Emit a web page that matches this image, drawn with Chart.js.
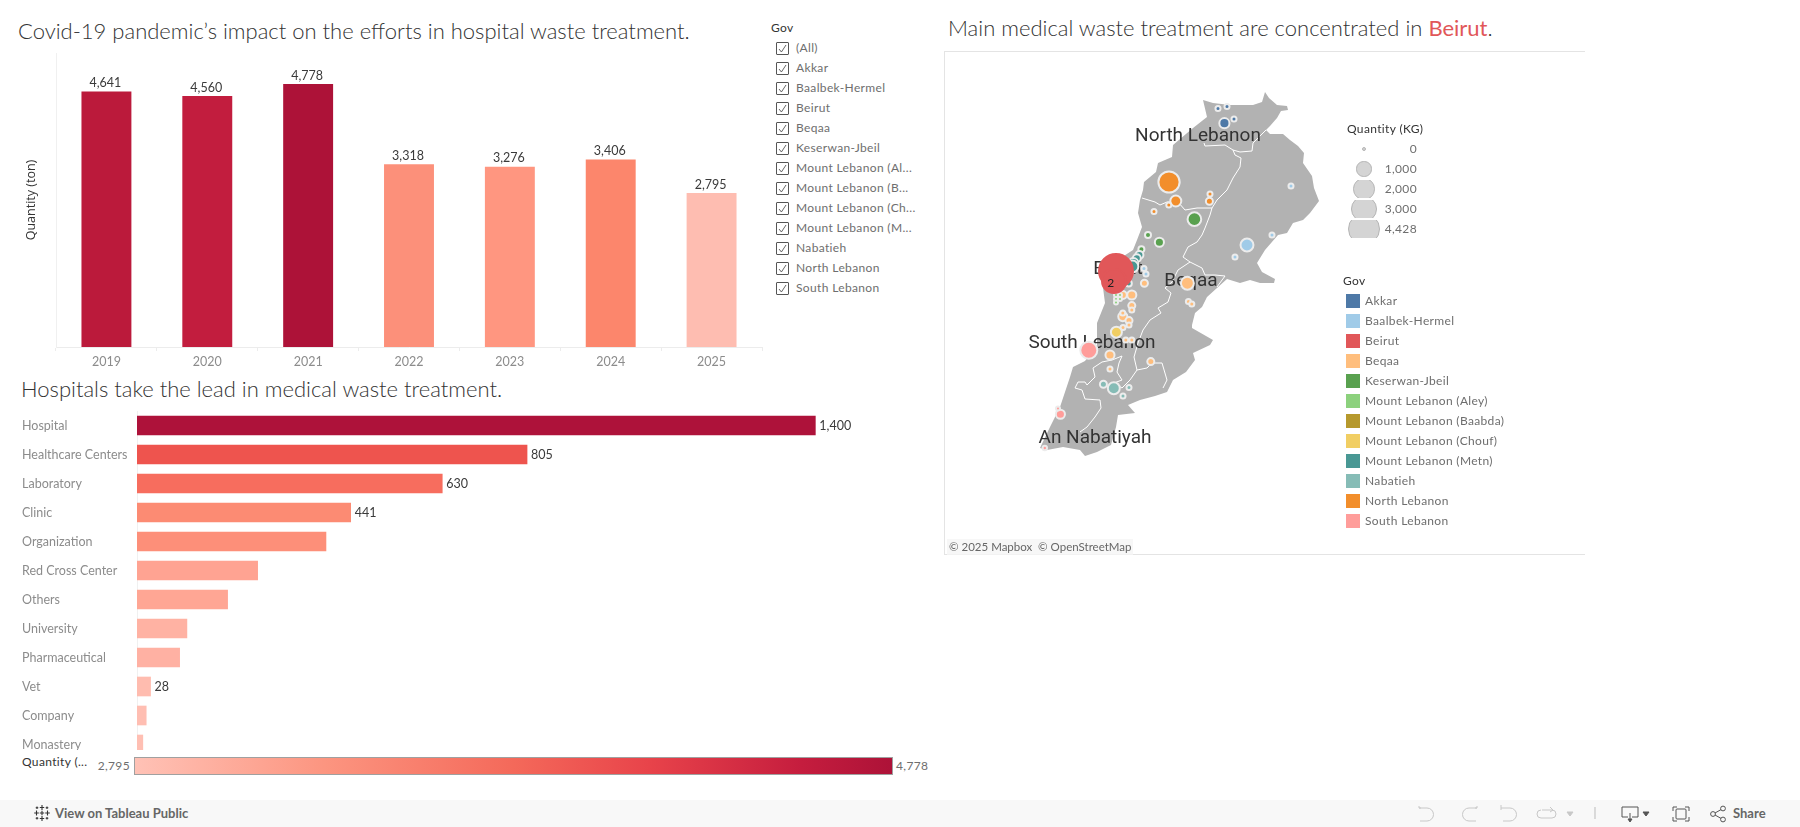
<!DOCTYPE html>
<html>
<head>
<meta charset="utf-8">
<title>Medical waste treatment in Lebanon</title>
<script src="https://cdn.jsdelivr.net/npm/chart.js@4/dist/chart.umd.min.js"></script>
<style>
  html, body { margin: 0; padding: 0; background: #fff; }
  body { position: relative; width: 1800px; height: 827px; overflow: hidden; font-family: Lato, "Open Sans", sans-serif; color: #6e6e6e; }
  .abs { position: absolute; white-space: nowrap; }
  canvas { display: block; }
  .title { font-family: Lato, sans-serif; font-weight: 300; font-size: 22px; line-height: 26px; color: #333; }
  .small { font-size: 12px; line-height: 16px; letter-spacing: 0.35px; }
  .head { color: #333; }
  .check { position: absolute; left: 776px; width: 11px; height: 11px; border: 1px solid #555; border-radius: 1px; }
  .check svg { position: absolute; left: 1px; top: 1px; }
  .swatch { position: absolute; left: 1346px; width: 14px; height: 14px; }
  .sizeRow { position: absolute; left: 1340px; width: 50px; height: 18px; overflow: hidden; }
  .sizeDot { position: absolute; box-sizing: border-box; background: #d4d4d4; border: 1.5px solid #b4b4b4; border-radius: 50%; }
</style>
</head>
<body>
<div class="abs title" style="left:18px;top:18px">Covid-19 pandemic’s impact on the efforts in hospital waste treatment.</div>
<div class="abs title" style="left:21px;top:376px">Hospitals take the lead in medical waste treatment.</div>
<div class="abs title" style="left:948px;top:15px">Main medical waste treatment are concentrated in <span style="color:#e15759;font-weight:400">Beirut</span>.</div>

<div class="abs" style="left:0;top:45px"><canvas id="yearChart" width="770" height="335"></canvas></div>
<div class="abs" style="left:0;top:411px;width:940px;height:339px;overflow:hidden"><canvas id="typeChart" width="940" height="348"></canvas></div>

<div class="abs" style="left:944px;top:51px;width:641px;height:504px;box-sizing:border-box;border:1px solid #e4e4e4;border-right:0"></div>
<div class="abs" style="left:944px;top:51px"><canvas id="mapChart" width="641" height="504"></canvas></div>
<div class="abs small" style="left:947px;top:539px;font-size:11.5px;letter-spacing:0;color:#666;background:rgba(245,245,245,.8);padding:0 2px">© 2025 Mapbox&nbsp; © OpenStreetMap</div>

<div class="abs small head" style="left:771px;top:20px">Gov</div>
<div id="filterList"></div>

<div class="abs small head" style="left:1347px;top:121px">Quantity (KG)</div>
<div id="sizeLegend"></div>
<div class="abs small head" style="left:1343px;top:273px">Gov</div>
<div id="colorLegend"></div>

<div class="abs small head" style="left:22px;top:754px">Quantity (...</div>
<div class="abs small" style="right:1670px;top:758px">2,795</div>
<div class="abs" style="left:134px;top:757px;width:759px;height:18px;box-sizing:border-box;border:1px solid #a0a0a0;background:linear-gradient(90deg,#ffc2b6 0%,#fc9580 25%,#f4695a 50%,#e8434a 68%,#c51d3e 88%,#ad1238 100%)"></div>
<div class="abs small" style="left:896px;top:758px">4,778</div>

<div class="abs" style="left:0;top:800px;width:1800px;height:27px;background:#f8f8f8"></div>
<svg class="abs" style="left:33px;top:804px" width="18" height="18" viewBox="0 0 18 18" stroke="#333" stroke-width="1.1" fill="none">
  <path d="M9 1v5M6.8 3.5h4.4M9 12v5M6.8 14.5h4.4M3.5 6.5v5M1.2 9h4.6M14.5 6.5v5M12.2 9h4.6M9 6.8v4.4M6.8 9h4.4M4 2.5v2.6M2.7 3.8h2.6M14 2.5v2.6M12.7 3.8h2.6M4 12.9v2.6M2.7 14.2h2.6M14 12.9v2.6M12.7 14.2h2.6"/>
</svg>
<div class="abs" style="left:55px;top:805px;font-size:13px;line-height:17px;font-weight:700;color:#666">View on Tableau Public</div>
<svg class="abs" style="left:1410px;top:800px" width="370" height="27" viewBox="0 0 370 27" fill="none" stroke="#c8c8c8" stroke-width="1">
  <path d="M11 8h-2v-2M9 8h8a6 6 0 0 1 0 13H10"/>
  <path d="M65 8h2v-2M67 8h-8a6 6 0 0 0 0 13h7"/>
  <path d="M91 5v5M91 8h9a6 6 0 0 1 0 13h-7"/>
  <path d="M132 10h10a4 4 0 0 1 0 8h-11a4 4 0 0 1 0-8M140 7l3 3-3 2"/>
  <path d="M157 12h6l-3 4z" fill="#c8c8c8"/>
  <path d="M185 7v12" stroke="#bbb"/>
  <g stroke="#555">
    <path d="M212 7h16v10h-6M218 17h-6V7M220 13v8"/>
    <path d="M218 19l2 3 2-3z" fill="#555"/>
    <path d="M233 12h6l-3 4z" fill="#555"/>
    <path d="M263 11V7h4M275 7h4v4M279 17v4h-4M267 21h-4v-4"/><rect x="266" y="9" width="10" height="10" rx="1"/>
    <circle cx="303" cy="14" r="2.4"/><circle cx="313" cy="8.5" r="2.4"/><circle cx="313" cy="19.5" r="2.4"/><path d="M305 13l6-3.4M305 15l6 3.4"/>
  </g>
</svg>
<div class="abs" style="left:1733px;top:805px;font-size:13px;line-height:17px;font-weight:700;color:#666">Share</div>

<script>
// --- Data ---
const years = ["2019", "2020", "2021", "2022", "2023", "2024", "2025"];
const yearQuantity = [4641, 4560, 4778, 3318, 3276, 3406, 2795];
const yearColors = ["#bb1a3b", "#c21d3e", "#ad1238", "#fc907a", "#ff9680", "#fc866c", "#febdb1"];

const facilityTypes = ["Hospital", "Healthcare Centers", "Laboratory", "Clinic", "Organization", "Red Cross Center",
  "Others", "University", "Pharmaceutical", "Vet", "Company", "Monastery"];
const facilityQuantity = [1400, 805, 630, 441, 390, 249, 187, 103, 88, 28, 19, 12];
const facilityColors = ["#ae123a", "#ee544e", "#f76d5e", "#fc8b73", "#fd8f79", "#ffa392", "#ffa694", "#ffb2a3",
  "#ffb1a3", "#ffbcaf", "#ffbeb2", "#ffbfb3"];
const facilityLabelled = ["Hospital", "Healthcare Centers", "Laboratory", "Clinic", "Vet"];

const filterItems = ["(All)", "Akkar", "Baalbek-Hermel", "Beirut", "Beqaa", "Keserwan-Jbeil", "Mount Lebanon (Al...",
  "Mount Lebanon (B...", "Mount Lebanon (Ch...", "Mount Lebanon (M...", "Nabatieh", "North Lebanon", "South Lebanon"];

const govNames = ["Akkar", "Baalbek-Hermel", "Beirut", "Beqaa", "Keserwan-Jbeil", "Mount Lebanon (Aley)",
  "Mount Lebanon (Baabda)", "Mount Lebanon (Chouf)", "Mount Lebanon (Metn)", "Nabatieh", "North Lebanon", "South Lebanon"];
const govColors = ["#4e79a7", "#a0cbe8", "#e15759", "#ffbe7d", "#59a14f", "#8cd17d", "#b6992d", "#f1ce63", "#499894",
  "#86bcb6", "#f28e2b", "#ff9d9a"];

const sizeLegendKg = [0, 1000, 2000, 3000, 4428];

// map units: km east / km north of a local origin near the south-west corner
const outlineEast = [117.5, 119.5, 123.5, 128.5, 129, 125.5, 123.5, 120, 118, 120, 126.5, 130, 134, 137, 136.5, 141, 142,
  144.5, 140, 136.5, 131.5, 128.5, 124, 117.5, 113.5, 116, 122.5, 122, 115, 110, 105, 98.5, 93.5, 88.5, 86, 82.5, 81, 81,
  91.5, 90, 81.5, 82.5, 78, 71.5, 68.5, 62.5, 55, 49, 52.5, 44, 43, 40.5, 33.5, 27.5, 25, 16.5, 8.5, 5, 10, 15, 20, 21.5,
  27.5, 33.5, 33.5, 37.5, 36, 41.5, 51.5, 53.5, 56, 54, 55, 56.5, 57, 63, 64, 71, 71.5, 81.5, 88.5, 86.5, 91.5, 100, 111.5,
  116, 117.5];
const outlineNorth = [184, 181, 177.5, 177, 175, 174.5, 171, 167, 165, 163, 163, 160, 157, 153.5, 148.5, 142, 136,
  129.5, 123.5, 120, 118.5, 113.5, 112.5, 105, 98.5, 94, 90.5, 88.5, 88.5, 90, 88.5, 90.5, 86, 81.5, 76.5, 73.5, 67.5, 66,
  60, 57.5, 53.5, 50, 44, 40, 34, 32, 30, 27.5, 23.5, 22.5, 16.5, 7.5, 4, 2, 5, 6.5, 5, 6, 16.5, 26.5, 41.5, 46.5,
  49.5, 57.5, 68.5, 78.5, 90, 98.5, 105, 110, 116.5, 123.5, 130, 135, 139, 144, 148.5, 151.5, 157.5, 166, 171.5, 180, 178.5, 177.5, 177.5,
  179, 184];

// governorate boundaries, null separates one line from the next
const boundaryEast = [87, 87.5, 97.5, 101.5, 105, 111, 111.5, 118, null,
  101.5, 102.5, 105.5, 105, 101.5, 98.5, 93.5, 91, 90, 87.5, 86, 83.5, 79, 76.5, 80, 86, 87.5, 92.5, 97.5, 93.5, null,
  80, 74, 71, 67.5, 70.5, 69, 64, 65.5, 60, 56.5, 54, 52, 53.5, 50, 46, 42, 46, 43.5, 44.5, 46, null,
  53.5, 58.5, 61, 66, 68.5, 66.5, null,
  56, 62.5, 65, 68.5, 74, 77.5, 83.5, 91, null,
  46, 41, 36, 31.5, 32.5, 28.5, 27.5, 24, 22.5, 26, 27.5, 35, 35.5, 32.5, 28.5, 25];
const boundaryNorth = [158.5, 157, 157.5, 155, 154, 154.5, 158.5, 165, null,
  155, 152.5, 151, 146.5, 141, 135, 130, 126, 122.5, 116, 112.5, 109, 106.5, 101.5, 99, 96, 92.5, 92.5, 92, 86.5, null,
  99, 95, 89, 86, 83.5, 79, 76, 73.5, 70, 65, 58.5, 51.5, 45, 40, 36, 38.5, 40, 44, 48.5, 52, null,
  45, 46, 48.5, 48.5, 40, 36, null,
  131, 129, 127.5, 129, 129, 125, 126, 126, null,
  52, 50, 49, 46, 41.5, 37.5, 39, 39, 36, 35, 30.5, 30, 26, 21.5, 16.5, 14];

const siteEast = [97.2, 94, 98.5, 102, 130.5, 108.5, 121, 102.5, 57, 58, 78.7, 57.2, 50.9, 46.4, 50.9, 50.9, 46.4, 46.4, 49.5, 49.5,
  46.5, 79.2, 80.9, 60.4, 40, 40, 47.9, 50.9, 82.2, 59, 64.7, 55.7, 43, 45, 43, 43, 45, 43.2, 54.7, 53.4, 51.7, 51.2, 49.4,
  41.9, 36.7, 49.5, 46.5, 72.5, 69.5, 72.9, 69.4, 90, 89.7, 62, 29.4, 15.2, 14, 7.4, 43, 42];
const siteNorth = [168.4, 175.7, 176.7, 170.5, 137, 107.5, 112.5, 101.5, 95.7, 93, 88.4, 88.4, 82.5, 82.5, 77.2, 75, 71.7, 73.5, 69.7, 67.5,
  66.2, 79.2, 78, 49.2, 52.5, 45.5, 60, 60, 120.4, 112.5, 108.9, 105.4, 82.5, 80.5, 80.5, 78.7, 82.5, 63.9, 102.5, 100.9, 98.4, 96.7, 88.2,
  35.9, 37.9, 36.2, 32, 138.7, 139, 129.5, 127.5, 133, 129.4, 124.2, 54.9, 22.9, 25.7, 6, 94.5, 89.5];
const siteKg = [290, 40, 40, 40, 40, 520, 40, 40, 40, 40, 520, 110, 220, 160, 110, 40, 220, 40, 110, 40,
  40, 40, 40, 110, 220, 40, 40, 40, 590, 70, 220, 70, 18, 18, 18, 18, 18, 350, 160, 160, 290, 430, 70,
  430, 110, 40, 40, 200, 1600, 350, 40, 40, 110, 40, 980, 220, 18, 25, 4428, 2100];
const siteGov = [0, 0, 0, 0, 1, 1, 1, 1, 1, 1, 3, 3, 3, 3, 3, 3, 3, 3, 3, 3,
  3, 3, 3, 3, 3, 3, 3, 3, 4, 4, 4, 4, 5, 5, 5, 5, 5, 7, 8, 8, 8, 8, 8,
  9, 9, 9, 9, 10, 10, 10, 10, 10, 10, 10, 11, 11, 11, 11, 2, 2];

const placeNames = ["North Lebanon", "Beirut", "Beqaa", "South Lebanon", "An Nabatiyah"];
const placeEast = [84, 44, 80.5, 31, 32.5];
const placeNorth = [162, 95.5, 89.5, 58.5, 11];

// --- Helpers ---
const BOOK_FONT = "Lato";
function kgToRadius(kg) {
  return 0.24 * Math.sqrt(kg);
}

const barValueLabels = {
  id: "barValueLabels",
  afterDatasetsDraw(chart, args, opts) {
    const { ctx } = chart;
    const meta = chart.getDatasetMeta(0);
    ctx.save();
    ctx.font = "12.5px " + BOOK_FONT;
    ctx.fillStyle = "#3a3a3a";
    meta.data.forEach((bar, i) => {
      const name = chart.data.labels[i];
      const value = chart.data.datasets[0].data[i];
      if (opts.only && !opts.only.includes(name)) return;
      const text = value.toLocaleString("en-US");
      if (opts.horizontal) {
        ctx.textAlign = "left";
        ctx.textBaseline = "middle";
        ctx.fillText(text, bar.x + 4, bar.y);
      } else {
        ctx.textAlign = "center";
        ctx.textBaseline = "bottom";
        ctx.fillText(text, bar.x - 1, bar.y - 2);
      }
    });
    ctx.restore();
  },
};

// --- Quantity per year ---
new Chart(document.getElementById("yearChart"), {
  type: "bar",
  data: {
    labels: years,
    datasets: [{ data: yearQuantity, backgroundColor: yearColors, categoryPercentage: 1, barPercentage: 0.495 }],
  },
  options: {
    responsive: false,
    animation: false,
    events: [],
    layout: { autoPadding: false, padding: { top: 8, right: 8, bottom: 0, left: 0 } },
    plugins: { legend: { display: false }, tooltip: { enabled: false }, barValueLabels: {} },
    scales: {
      x: {
        afterFit: (s) => { s.height = 33; },
        grid: { offset: true, drawOnChartArea: false, tickLength: 4, tickColor: "#ececec" },
        border: { color: "#ececec" },
        ticks: { color: "#8c8c8c", font: { family: BOOK_FONT, size: 12.5 }, padding: 3, maxRotation: 0 },
      },
      y: {
        min: 0,
        max: 5340,
        afterFit: (s) => { s.width = 56; },
        grid: { display: false },
        border: { color: "#f0f0f0" },
        ticks: { display: false },
        title: {
          display: true,
          text: "Quantity (ton)",
          color: "#333",
          font: { family: "Open Sans", size: 12.5 },
          padding: { top: 24, bottom: 0 },
        },
      },
    },
  },
  plugins: [barValueLabels],
});

// --- Quantity per facility type ---
new Chart(document.getElementById("typeChart"), {
  type: "bar",
  data: {
    labels: facilityTypes,
    datasets: [{ data: facilityQuantity, backgroundColor: facilityColors, barThickness: 19 }],
  },
  options: {
    indexAxis: "y",
    responsive: false,
    animation: false,
    events: [],
    layout: { autoPadding: false, padding: { top: 0, right: 20, bottom: 0, left: 22 } },
    plugins: {
      legend: { display: false },
      tooltip: { enabled: false },
      barValueLabels: { horizontal: true, only: facilityLabelled },
    },
    scales: {
      x: { display: false, min: 0, max: 1616 },
      y: {
        afterFit: (s) => { s.width = 115; s.paddingTop = 0; s.paddingBottom = 0; },
        grid: { display: false },
        border: { color: "#f0f0f0" },
        ticks: { color: "#8c8c8c", crossAlign: "far", font: { family: BOOK_FONT, size: 12.5 }, autoSkip: false },
      },
    },
  },
  plugins: [barValueLabels],
});

// --- Map of sites ---
const outlineData = outlineEast.map((e, i) => ({ x: e, y: outlineNorth[i] }));
const boundaryData = boundaryEast.map((e, i) => ({ x: e, y: boundaryNorth[i] }));
const siteData = siteEast.map((e, i) => ({ x: e, y: siteNorth[i], r: kgToRadius(siteKg[i]) + 1 }));

const placeLabels = {
  id: "placeLabels",
  // names sit on the base map, under the bubbles
  afterDatasetDraw(chart, args) {
    if (args.index !== 1) return;
    const { ctx, scales } = chart;
    ctx.save();
    ctx.font = "19px Roboto";
    ctx.textAlign = "center";
    ctx.textBaseline = "middle";
    ctx.fillStyle = "#333";
    placeNames.forEach((name, i) => {
      ctx.fillText(name, scales.x.getPixelForValue(placeEast[i]), scales.y.getPixelForValue(placeNorth[i]));
    });
    ctx.restore();
  },
  afterDatasetsDraw(chart) {
    const { ctx, scales } = chart;
    const top = siteData[siteData.length - 1];
    ctx.save();
    ctx.font = "12px Lato";
    ctx.textAlign = "center";
    ctx.textBaseline = "middle";
    ctx.fillStyle = "#222";
    ctx.fillText("2", scales.x.getPixelForValue(top.x - 1.6), scales.y.getPixelForValue(top.y - 0.9));
    ctx.restore();
  },
};

new Chart(document.getElementById("mapChart"), {
  type: "bubble",
  data: {
    datasets: [
      {
        type: "line",
        data: outlineData,
        parsing: false,
        borderWidth: 0,
        backgroundColor: "#b2b2b2",
        fill: "shape",
        tension: 0,
        pointRadius: 0,
        order: 3,
      },
      {
        type: "line",
        data: boundaryData,
        parsing: false,
        borderColor: "#ffffff",
        borderWidth: 1,
        fill: false,
        tension: 0,
        pointRadius: 0,
        spanGaps: false,
        order: 2,
      },
      {
        type: "bubble",
        data: siteData,
        backgroundColor: (c) => govColors[siteGov[c.dataIndex]],
        // the two Beirut sites overlap and read as one blob
        borderColor: (c) => (siteGov[c.dataIndex] === 2 ? govColors[2] : "#ececec"),
        borderWidth: 2,
        order: 1,
      },
    ],
  },
  options: {
    responsive: false,
    animation: false,
    events: [],
    layout: { autoPadding: false, padding: 0 },
    plugins: { legend: { display: false }, tooltip: { enabled: false } },
    scales: {
      x: { type: "linear", display: false, min: -43, max: 277.5 },
      y: { type: "linear", display: false, min: -47.5, max: 204.5 },
    },
  },
  plugins: [placeLabels],
});

// --- Filter and legends ---
const filterList = document.getElementById("filterList");
filterItems.forEach((name, i) => {
  const y = 42 + i * 20;
  filterList.insertAdjacentHTML("beforeend",
    `<div class="check" style="top:${y}px"><svg width="9" height="9" viewBox="0 0 9 9"><path d="M1 5l2.4 3L8 1" fill="none" stroke="#555" stroke-width="0.9"/></svg></div>` +
    `<div class="abs small" style="left:796px;top:${y - 2}px">${name}</div>`);
});

const colorLegend = document.getElementById("colorLegend");
govNames.forEach((name, i) => {
  const y = 294 + i * 20;
  colorLegend.insertAdjacentHTML("beforeend",
    `<div class="swatch" style="top:${y}px;background:${govColors[i]}"></div>` +
    `<div class="abs small" style="left:1365px;top:${y - 1}px">${name}</div>`);
});

const sizeLegend = document.getElementById("sizeLegend");
sizeLegendKg.forEach((kg, i) => {
  const y = 140 + i * 20;
  const r = Math.max(kgToRadius(kg), 2);
  sizeLegend.insertAdjacentHTML("beforeend",
    `<div class="sizeRow" style="top:${y}px"><div class="sizeDot" style="left:${24 - r}px;top:${9 - r}px;width:${2 * r}px;height:${2 * r}px"></div></div>` +
    `<div class="abs small" style="right:${1800 - 1417}px;top:${y + 1}px">${kg.toLocaleString("en-US")}</div>`);
});
</script>
</body>
</html>
